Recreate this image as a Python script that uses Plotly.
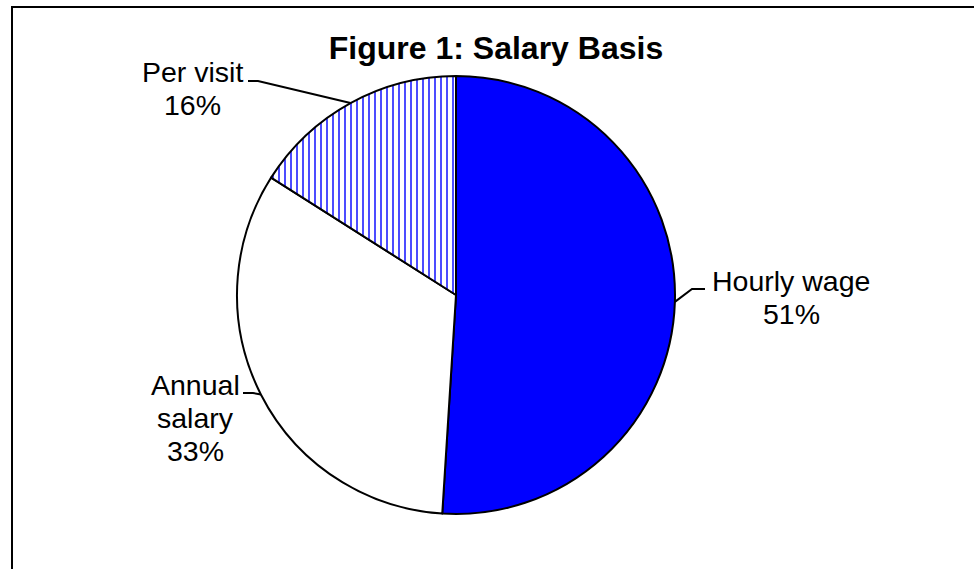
import math

import plotly.graph_objects as go

# data
labels = ["Hourly wage", "Annual salary", "Per visit"]
shares = [51, 33, 16]
label_lines = [["Hourly wage", "51%"], ["Annual", "salary", "33%"], ["Per visit", "16%"]]

W, H = 974, 569
FONT = "Liberation Sans, Arial, sans-serif"
LINE_GAP = 33

# pie geometry in pixels
CX, CY, R = 456, 295, 219

# label placement (pixels): text centre, elbow of leader, end of leader
LABEL_LAYOUT = [
    dict(text_at=(791, 297), elbow=(692, 289), end=(705, 289)),
    dict(text_at=(195, 418), elbow=(253, 393), end=(243, 393)),
    dict(text_at=(192, 88), elbow=(258, 81), end=(248, 81)),
]


def px(x, y):
    return x / W, 1 - y / H


fig = go.Figure()
fig.add_trace(
    go.Pie(
        labels=labels,
        values=shares,
        sort=False,
        direction="clockwise",
        rotation=0,
        textinfo="none",
        hoverinfo="skip",
        showlegend=False,
        domain=dict(
            x=[(CX - R) / W, (CX + R) / W],
            y=[1 - (CY + R) / H, 1 - (CY - R) / H],
        ),
        marker=dict(
            colors=["#0000ff", "#ffffff", "#ffffff"],
            line=dict(color="#000000", width=2),
            pattern=dict(
                shape=["", "", "|"],
                fgcolor="#3838ff",
                bgcolor="#ffffff",
                size=6,
                solidity=0.3,
            ),
        ),
    )
)

total = sum(shares)
start = 0.0
for share, lines, spec in zip(shares, label_lines, LABEL_LAYOUT):
    mid = 2 * math.pi * (start + share / 2) / total
    start += share
    ex, ey = CX + R * math.sin(mid), CY - R * math.cos(mid)
    pts = [px(ex, ey), px(*spec["elbow"]), px(*spec["end"])]
    path = "M {} {} L {} {} L {} {}".format(*[c for p in pts for c in p])
    fig.add_shape(type="path", path=path, xref="paper", yref="paper",
                  line=dict(color="#000000", width=2))
    cx, cy = spec["text_at"]
    top = cy - LINE_GAP * (len(lines) - 1) / 2
    for i, line in enumerate(lines):
        tx, ty = px(cx, top + i * LINE_GAP)
        fig.add_annotation(
            x=tx, y=ty, xref="paper", yref="paper", text=line, showarrow=False,
            xanchor="center", yanchor="middle", align="center",
            font=dict(family=FONT, size=28.5, color="#000000"),
        )

# outer frame (right and bottom edges fall outside the picture)
fig.add_shape(type="rect", xref="paper", yref="paper",
              x0=12 / W, y0=1 - 7 / H, x1=1.02, y1=-0.02,
              line=dict(color="#000000", width=2))

fig.update_layout(
    width=W,
    height=H,
    margin=dict(l=0, r=0, t=0, b=0),
    paper_bgcolor="#ffffff",
    plot_bgcolor="#ffffff",
    title=dict(
        text="<b>Figure 1: Salary Basis</b>",
        x=496 / W,
        xanchor="center",
        y=1 - 48 / H,
        yanchor="middle",
        font=dict(family=FONT, size=32, color="#000000"),
    ),
)

fig.write_html(
    "out.html",
    config={"displayModeBar": False},
    post_script="document.body.style.margin = '0';",
)
